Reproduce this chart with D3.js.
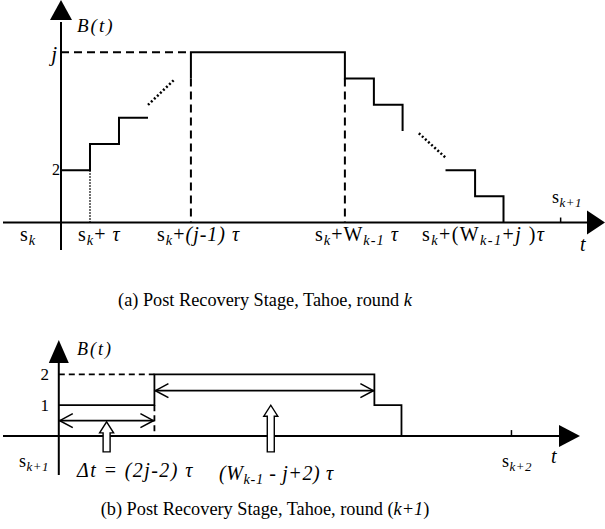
<!DOCTYPE html>
<html>
<head>
<meta charset="utf-8">
<script src="https://cdn.jsdelivr.net/npm/d3@7"></script>
<style>
  body { margin: 0; background: #fff; }
  svg { display: block; font-family: "Liberation Serif", "Times New Roman", serif; }
</style>
</head>
<body>
<svg id="chart" width="605" height="529"></svg>
<script>
// time in units of tau, buffer level in packets

// (a) round k
const TOP_RISE = [[0, 2], [1, 2], [1, 3], [2, 3], [2, 4], [3, 4]];
const TOP_PLATEAU = [[4.48, 5.5], [4.48, 6.5], [9.79, 6.5], [9.79, 5.5], [10.79, 5.5],
  [10.79, 4.5], [11.78, 4.5], [11.78, 3.5]];
const TOP_TAIL = [[13.26, 2], [14.28, 2], [14.28, 1], [15.26, 1], [15.26, 0]];
const TOP_DOTS = [[[3, 4.49], [3.9, 5.45]], [[12.34, 3.41], [13.26, 2.48]]];
const TOP_DASHED = [[[0, 6.5], [4.48, 6.5]], [[4.48, 5.5], [4.48, 0]], [[9.79, 5.5], [9.79, 0]]];
const TOP_DOTTED_V = [[1, 2], [1, 0]];
const TOP_NEXT = 17.23; // s_{k+1}

// (b) round k+1
const BOT_STEPS = [[0, 1], [6, 1], [6, 2], [19.8, 2], [19.8, 1], [21.5, 1], [21.5, 0]];
const BOT_DASHED = [[[0, 2], [6, 2]], [[6, 1], [6, 0]]];
const BOT_SPANS = [[0, 6, 0.5], [6, 19.8, 1.47]];
const BOT_UPARROWS = [[3, -0.51, 0.46], [13.3, -0.51, 1.0]];
const BOT_NEXT = 28.4; // s_{k+2}

const svg = d3.select("#chart");

const xTop = d3.scaleLinear().domain([-2, 18.76]).range([3, 605]);
const yTop = d3.scaleLinear().domain([-1.05, 8.5]).range([250, 0]);
const xBot = d3.scaleLinear().domain([-3.5, 32.7]).range([3, 580]);
const yBot = d3.scaleLinear().domain([-1.26, 3.11]).range([475, 340]);

function drawAxes(g, x, y, headX, headY, w) {
  const [x0, x1] = x.domain();
  const [y0, y1] = y.domain();
  g.append("line")
    .attr("x1", x(x0)).attr("x2", x(x1) - headX)
    .attr("y1", y(0)).attr("y2", y(0))
    .attr("stroke", "#000").attr("stroke-width", w);
  g.append("line")
    .attr("x1", x(0)).attr("x2", x(0))
    .attr("y1", y(y0)).attr("y2", y(y1) + headY)
    .attr("stroke", "#000").attr("stroke-width", w);
  // arrow heads
  g.append("path")
    .attr("d", `M${x(x1)},${y(0)}L${x(x1) - headX},${y(0) - headY / 2 - 1}L${x(x1) - headX},${y(0) + headY / 2 + 1}Z`)
    .attr("fill", "#000");
  g.append("path")
    .attr("d", `M${x(0)},${y(y1)}L${x(0) - headY / 2},${y(y1) + headX + 2}L${x(0) + headY / 2},${y(y1) + headX + 2}Z`)
    .attr("fill", "#000");
}

function path(g, x, y, pts, w, dash) {
  const line = d3.line().x(d => x(d[0])).y(d => y(d[1]));
  const p = g.append("path")
    .attr("d", line(pts))
    .attr("fill", "none")
    .attr("stroke", "#000")
    .attr("stroke-width", w);
  if (dash) p.attr("stroke-dasharray", dash);
  return p;
}

// label helper: parts = [{t, sub, it, up}]
function label(g, xp, yp, size, parts, anchor, spacing) {
  const t = g.append("text")
    .attr("x", xp).attr("y", yp)
    .attr("font-size", size)
    .attr("letter-spacing", spacing || 0)
    .attr("text-anchor", anchor || "start");
  parts.forEach(p => {
    const s = t.append("tspan").text(p.t);
    if (p.it) s.attr("font-style", "italic");
    if (p.sub) s.attr("font-size", size * 0.72).attr("dy", size * 0.2);
    if (p.up) s.attr("dy", -size * 0.2);
  });
  return t;
}

const sk = [{ t: "s" }, { t: "k", sub: true, it: true }];

// ---------- (a) ----------
const gTop = svg.append("g");
drawAxes(gTop, xTop, yTop, 18, 22, 2);

path(gTop, xTop, yTop, TOP_RISE, 2);
path(gTop, xTop, yTop, TOP_PLATEAU, 2);
path(gTop, xTop, yTop, TOP_TAIL, 2);
TOP_DASHED.forEach(d => path(gTop, xTop, yTop, d, 2, "8,5"));
path(gTop, xTop, yTop, TOP_DOTTED_V, 1.5, "1.5,1.5");
TOP_DOTS.forEach(d => path(gTop, xTop, yTop, d, 2.5, "2,2.2"));

gTop.append("line")
  .attr("x1", xTop(TOP_NEXT)).attr("x2", xTop(TOP_NEXT))
  .attr("y1", yTop(0) - 5).attr("y2", yTop(0))
  .attr("stroke", "#000").attr("stroke-width", 1.5);

label(gTop, 77, 32, 19, [{ t: "B(t)", it: true }], "start", 2);
label(gTop, 57, 61, 21, [{ t: "j", it: true }], "end");
label(gTop, 60, 175, 16, [{ t: "2" }], "end");
label(gTop, 20, 241, 20, sk, "start", 1);
label(gTop, 78, 241, 20, [...sk, { t: "+ ", up: true }, { t: "τ", it: true }], "start", 1);
label(gTop, 157, 241, 20, [...sk, { t: "+", up: true }, { t: "(j-1)", it: true }, { t: " τ", it: true }], "start", 1);
label(gTop, 315, 241, 20, [...sk, { t: "+W", up: true }, { t: "k-1", sub: true, it: true }, { t: " τ", it: true, up: true }], "start", 1);
label(gTop, 422, 241, 20, [...sk, { t: "+(W", up: true }, { t: "k-1", sub: true, it: true }, { t: "+", up: true }, { t: "j", it: true }, { t: " )" }, { t: "τ", it: true }], "start", 1.4);
label(gTop, 552, 203, 18, [{ t: "s" }, { t: "k+1", sub: true, it: true }], "start", 0.5);
label(gTop, 580, 251, 20, [{ t: "t", it: true }]);

label(gTop, 265, 306, 18.3, [{ t: "(a) Post Recovery Stage, Tahoe, round " }, { t: "k", it: true }], "middle");

// ---------- (b) ----------
const gBot = svg.append("g");
drawAxes(gBot, xBot, yBot, 21, 20, 2);

path(gBot, xBot, yBot, BOT_STEPS, 1.8);
BOT_DASHED.forEach(d => path(gBot, xBot, yBot, d, 1.8, "6,4"));

BOT_SPANS.forEach(([a, b, lv]) => {
  const yy = yBot(lv);
  gBot.append("line")
    .attr("x1", xBot(a)).attr("x2", xBot(b))
    .attr("y1", yy).attr("y2", yy)
    .attr("stroke", "#000").attr("stroke-width", 1.6);
  gBot.append("path")
    .attr("d", `M${xBot(a) + 14},${yy - 7}L${xBot(a) + 1},${yy}L${xBot(a) + 14},${yy + 7}`)
    .attr("fill", "none").attr("stroke", "#000").attr("stroke-width", 1.6);
  gBot.append("path")
    .attr("d", `M${xBot(b) - 14},${yy - 7}L${xBot(b) - 1},${yy}L${xBot(b) - 14},${yy + 7}`)
    .attr("fill", "none").attr("stroke", "#000").attr("stroke-width", 1.6);
});

BOT_UPARROWS.forEach(([t, lo, hi]) => {
  const cx = xBot(t), yb = yBot(lo), yt = yBot(hi);
  const sw = 3.5, hw = 7, hh = 11;
  gBot.append("path")
    .attr("d", `M${cx - sw},${yb}L${cx - sw},${yt + hh}L${cx - hw},${yt + hh}L${cx},${yt}` +
      `L${cx + hw},${yt + hh}L${cx + sw},${yt + hh}L${cx + sw},${yb}Z`)
    .attr("fill", "#fff").attr("stroke", "#000").attr("stroke-width", 1.4);
});

gBot.append("line")
  .attr("x1", xBot(BOT_NEXT)).attr("x2", xBot(BOT_NEXT))
  .attr("y1", yBot(0) - 6).attr("y2", yBot(0))
  .attr("stroke", "#000").attr("stroke-width", 1.5);

label(gBot, 77, 355, 18, [{ t: "B(t)", it: true }], "start", 2);
label(gBot, 49, 380, 17, [{ t: "2" }], "end");
label(gBot, 49, 411, 17, [{ t: "1" }], "end");
label(gBot, 19, 467, 18, [{ t: "s" }, { t: "k+1", sub: true, it: true }], "start", 0.5);
label(gBot, 77, 477, 20, [{ t: "Δt = (2j-2) τ", it: true }], "start", 1.4);
label(gBot, 219, 480, 20, [{ t: "(W", it: true }, { t: "k-1", sub: true, it: true }, { t: " - j+2) τ", it: true, up: true }], "start", 0.6);
label(gBot, 502, 467, 18, [{ t: "s" }, { t: "k+2", sub: true, it: true }], "start", 0.5);
label(gBot, 551, 463, 20, [{ t: "t", it: true }]);

label(gBot, 265, 515, 18.3, [{ t: "(b) Post Recovery Stage, Tahoe, round (" }, { t: "k+1", it: true }, { t: ")" }], "middle");
</script>
</body>
</html>
